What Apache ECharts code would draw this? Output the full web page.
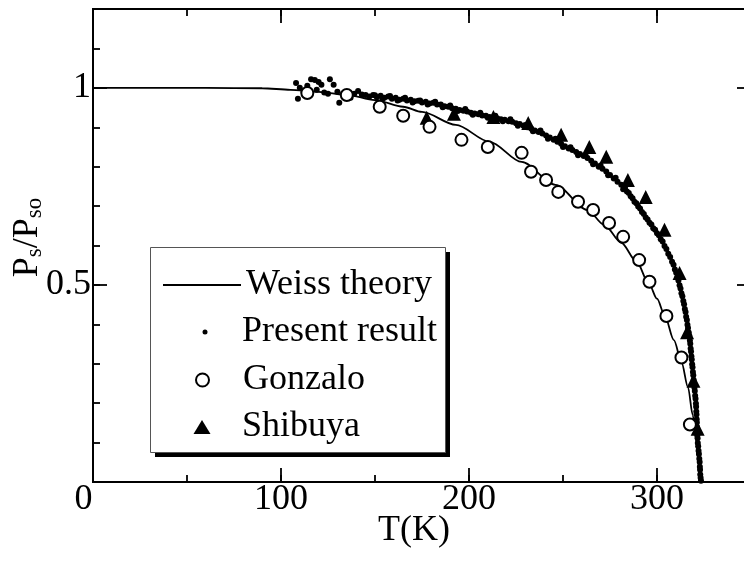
<!DOCTYPE html>
<html>
<head>
<meta charset="utf-8">
<script src="https://cdn.jsdelivr.net/npm/echarts@6/dist/echarts.min.js"></script>
<style>html,body{margin:0;padding:0;background:#fff}#c{width:744px;height:563px}</style>
</head>
<body>
<div id="c"></div>
<script>
// ---- data ----
var seriesNames = ['Weiss theory', 'Present result', 'Gonzalo', 'Shibuya'];
var xTicks = [0, 100, 200, 300];
var yTicks = [0.5, 1];

var weiss = [[0,1.0],[60,1.0],[90,0.999],[105,0.995],[120,0.99],[135,0.982],[150,0.969],[165,0.952],
  [175,0.939],[193,0.906],[211,0.863],[228,0.812],[246,0.754],[263,0.69],[272,0.652],[281,0.607],
  [289,0.56],[296,0.5],[300,0.465],[304,0.424],[309,0.36],[313,0.305],[316.5,0.24],[319,0.17],
  [321,0.1],[322,0.05],[322.5,0]];

var present = [[108,1.012],[109,0.972],[110,1.0],[112,0.99],[114,1.005],[116,1.022],[118,1.02],[119,0.995],
  [120,1.015],[121.5,1.008],[123,0.988],[125,0.985],[126,1.022],[128,1.008],[130,0.99],[131,0.962],
  [133,0.985],[135,0.98],[137,0.975],[139,0.985],[141,0.992],[143,0.983],[145,0.982],[147,0.978],
  [149,0.982],[151,0.976],[153,0.98],[155,0.975],[157,0.978],[159,0.972],[161,0.975],[163,0.97],
  [165,0.972],[167,0.968],[169,0.97],[171,0.966],[173,0.967],[175,0.963],[177,0.965],[179,0.96],
  [181,0.962],[183,0.958],[185,0.958],[187,0.953],[189,0.952],[191,0.948],[193,0.947],[195,0.944],
  [197,0.942],[199,0.94],[201,0.937],[203,0.935],[205,0.933],[207,0.93],[209,0.929],[211,0.926],
  [213,0.924],[215,0.923],[217,0.92],[219,0.919],[221,0.915],[223,0.914],[225,0.91],[227,0.908],
  [229,0.904],[231,0.9],[233,0.897],[235,0.892],[237,0.888],[239,0.884],[241,0.879],[243,0.874],
  [245,0.868],[247,0.863],[249,0.858],[251,0.852],[253,0.846],[255,0.842],[257,0.837],[259,0.832],
  [261,0.827],[263,0.822],[265,0.815],[267,0.808],[269,0.8],[271,0.795],[273,0.788],[275,0.779],
  [277,0.77],[279,0.762],[281,0.754],
  [150,0.981],[154,0.972],[158,0.979],[162,0.968],[166,0.975],[170,0.963],[174,0.968],[178,0.958],
  [182,0.965],[186,0.951],[190,0.955],[194,0.941],[198,0.946],[202,0.932],[206,0.937],[210,0.924],
  [214,0.929],[218,0.915],[222,0.92],[226,0.904],[230,0.906],[234,0.89],[238,0.892],[242,0.871],
  [246,0.871],[250,0.85],[254,0.849],[258,0.829],[262,0.829],[266,0.806],[270,0.803],[274,0.778],
  [278,0.772],[282,0.743],
  [283,0.746],[284,0.737],[285,0.733],[286,0.725],[287,0.72],[288,0.711],[289,0.707],[290,0.699],
  [291,0.694],[292,0.685],[293,0.68],[294,0.671],[295,0.666],[296,0.658],[297,0.653],[298,0.644],
  [299,0.64],[300,0.631],[301,0.626],[302,0.616],[303,0.61],[304,0.599],[305,0.591],[306,0.579],
  [307,0.571],[308,0.559],[308.8,0.551],[309.5,0.539],[310.2,0.531],[310.8,0.519],[311.4,0.511],
  [312,0.499],[312.5,0.491],[313,0.479],[313.5,0.471],[314,0.459],[314.4,0.451],[314.8,0.439],
  [315.2,0.431],[315.5,0.419],[315.9,0.411],[316.2,0.399],[316.5,0.391],[316.9,0.379],[317.2,0.371],
  [317.5,0.359],[317.7,0.351],[317.9,0.339],[318.1,0.331],[318.3,0.319],[318.5,0.311],[318.7,0.299],
  [318.9,0.291],[319.1,0.279],[319.3,0.271],[319.5,0.259],[319.7,0.251],[319.9,0.239],[320.1,0.231],
  [320.3,0.219],[320.5,0.211],[320.7,0.199],[320.8,0.191],[320.9,0.179],[321,0.171],[321.1,0.159],
  [321.2,0.151],[321.3,0.139],[321.4,0.131],[321.5,0.119],[321.6,0.111],[321.7,0.099],[321.9,0.091],
  [322.1,0.079],[322.3,0.071],[322.5,0.059],[322.7,0.051],[322.8,0.039],[322.9,0.031],[323,0.019],
  [323.2,0.011],[323.4,0.003]];

var gonzalo = [[114,0.987],[135,0.982],[152.5,0.952],[165,0.929],[179,0.901],[196,0.868],[210,0.85],
  [228,0.835],[233,0.787],[241,0.766],[247.5,0.736],[258,0.711],[266,0.69],[274.5,0.657],[282,0.622],
  [290.5,0.563],[296,0.508],[305,0.421],[313,0.316],[317.5,0.146]];

var shibuya = [[177.5,0.924],[192,0.934],[213,0.926],[231.5,0.911],[249,0.881],[264,0.85],[273,0.825],
  [284.5,0.766],[294,0.723],[304,0.64],[312,0.53],[316,0.38],[319.4,0.257],[321.6,0.135]];

// ---- chart ----
var FONT = 'Liberation Serif';
var chart = echarts.init(document.getElementById('c'), null, {renderer: 'canvas'});

function axisBase(extra) {
  var a = {
    axisLine: {show: true, onZero: false, lineStyle: {color: '#000', width: 2}},
    axisTick: {show: true, inside: true, length: 7, lineStyle: {color: '#000', width: 1.8}},
    axisLabel: {show: false},
    splitLine: {show: false},
    nameMoveOverlap: false
  };
  for (var k in extra) a[k] = extra[k];
  return a;
}
var majorTick = {show: true, inside: true, length: 14, lineStyle: {color: '#000', width: 1.8}};

var xMin = 0, xMax = 350, yMin = 0, yMax = 1.2;

var xAxes = [
  axisBase({type: 'value', position: 'bottom', min: xMin, max: xMax, interval: 100,
    axisTick: majorTick,
    axisLabel: {show: true, margin: 0, color: '#000', fontFamily: FONT, fontSize: 36,
      formatter: function (v) {
        if (xTicks.indexOf(v) < 0) return '';
        if (v === 0) return '{z|0}';
        return String(v);
      },
      rich: {z: {fontFamily: FONT, fontSize: 36, color: '#000', padding: [0, 19, 0, 0]}}
    },
    name: 'T(K)', nameLocation: 'middle', nameGap: 31,
    nameTextStyle: {color: '#000', fontFamily: FONT, fontSize: 36, verticalAlign: 'top', padding: [0, 16, 0, 0]}
  }),
  axisBase({type: 'value', position: 'bottom', min: xMin, max: xMax, interval: 50}),
  axisBase({type: 'value', position: 'top', min: xMin, max: xMax, interval: 100, axisTick: majorTick}),
  axisBase({type: 'value', position: 'top', min: xMin, max: xMax, interval: 50})
];

var yAxes = [
  axisBase({type: 'value', position: 'left', min: yMin, max: yMax, interval: 0.5,
    axisTick: majorTick,
    axisLabel: {show: true, margin: 2, color: '#000', fontFamily: FONT, fontSize: 36,
      formatter: function (v) {
        for (var i = 0; i < yTicks.length; i++) if (Math.abs(v - yTicks[i]) < 1e-9) return String(yTicks[i]);
        return '';
      }
    },
    name: '{m|P}{s|s}{m|/P}{s|so}', nameLocation: 'middle', nameRotate: 90, nameGap: 47,
    nameTextStyle: {
      padding: [0, 0, 0, 16],
      rich: {
        m: {fontFamily: FONT, fontSize: 36, color: '#000', lineHeight: 36, verticalAlign: 'bottom'},
        s: {fontFamily: FONT, fontSize: 23, color: '#000', lineHeight: 16, verticalAlign: 'bottom'}
      }
    }
  }),
  axisBase({type: 'value', position: 'left', min: yMin, max: yMax, interval: 0.1}),
  axisBase({type: 'value', position: 'right', min: yMin, max: yMax, interval: 0.5, axisTick: majorTick}),
  axisBase({type: 'value', position: 'right', min: yMin, max: yMax, interval: 0.1})
];

function legendFor(item, left, top, w, h, padLeft) {
  return {
    data: [item], left: left, top: top, orient: 'vertical', padding: 0,
    itemWidth: w, itemHeight: h, selectedMode: false, z: 10, symbolKeepAspect: false,
    textStyle: {color: '#000', fontFamily: FONT, fontSize: 36, padding: [0, 0, 0, padLeft]}
  };
}

var option = {
  animation: false,
  backgroundColor: '#fff',
  grid: {left: 93, top: 9, right: -7, bottom: 81, containLabel: false, outerBoundsMode: 'none'},
  xAxis: xAxes,
  yAxis: yAxes,
  graphic: [
    {type: 'rect', z: 5, shape: {x: 155, y: 252, width: 295, height: 205}, style: {fill: '#000'}},
    {type: 'rect', z: 6, shape: {x: 150.5, y: 247.5, width: 295, height: 205},
      style: {fill: '#fff', stroke: '#555', lineWidth: 1}}
  ],
  legend: [
    legendFor({name: seriesNames[0], icon: 'rect'}, 163, 267, 78, 2, 0),
    legendFor({name: seriesNames[1]}, 202.5, 314, 5, 5, 29.5),
    legendFor({name: seriesNames[2]}, 195, 362, 13, 13, 29),
    legendFor({name: seriesNames[3]}, 193.5, 409, 17, 14, 26.5)
  ],
  series: [
    {name: seriesNames[0], type: 'line', data: weiss, symbol: 'none', showSymbol: false, smooth: 0.3, smoothMonotone: 'x',
      lineStyle: {color: '#000', width: 1.8}, itemStyle: {color: '#000'}, z: 2},
    {name: seriesNames[1], type: 'scatter', data: present, symbol: 'circle', symbolSize: 6,
      itemStyle: {color: '#000', opacity: 1}, z: 3},
    {name: seriesNames[3], type: 'scatter', data: shibuya, symbol: 'triangle', symbolSize: 14,
      itemStyle: {color: '#000', opacity: 1}, z: 4},
    {name: seriesNames[2], type: 'scatter', data: gonzalo, symbol: 'circle', symbolSize: 12,
      itemStyle: {color: '#fff', borderColor: '#000', borderWidth: 2, opacity: 1}, z: 5}
  ]
};
chart.setOption(option);
</script>
</body>
</html>
